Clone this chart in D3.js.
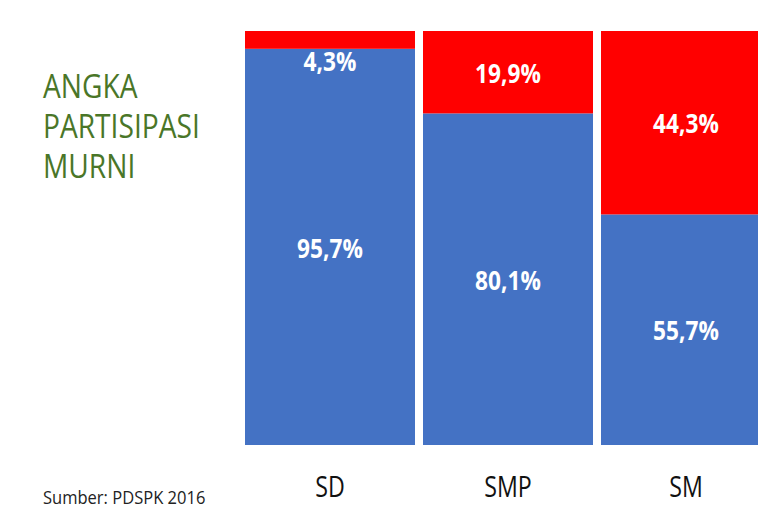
<!DOCTYPE html>
<html>
<head>
<meta charset="utf-8">
<script src="https://cdn.jsdelivr.net/npm/d3@7"></script>
<style>
  body { margin: 0; background: #fff; }
  svg { display: block; font-family: "Open Sans", sans-serif; }
</style>
</head>
<body>
<svg id="chart" width="758" height="510"></svg>
<script>
const categories = ["SD", "SMP", "SM"];
const tidakSekolah = [4.3, 19.9, 44.3]; // merah
const sekolah = [95.7, 80.1, 55.7]; // biru
const titleLines = ["ANGKA", "PARTISIPASI", "MURNI"];
const sourceText = "Sumber: PDSPK 2016";

const BLUE = "#4472C4";
const RED = "#FF0000";
const GREEN = "#4A7628";
const SQUEEZE = 0.84; // teks asli agak sempit

const svg = d3.select("#chart");

const rows = categories.map((c, i) => ({
  cat: c,
  sekolah: sekolah[i],
  tidak: tidakSekolah[i],
}));

const series = d3.stack().keys(["sekolah", "tidak"])(rows);

const x = d3
  .scaleBand()
  .domain(categories)
  .range([245, 771])
  .paddingInner(0.045)
  .paddingOuter(0);

const y = d3.scaleLinear().domain([0, 100]).range([445, 31]);

const color = d3.scaleOrdinal().domain(["sekolah", "tidak"]).range([BLUE, RED]);

const fmt = (v) => d3.format(".1f")(v).replace(".", ",") + "%";

// batang
svg
  .append("g")
  .selectAll("g")
  .data(series)
  .join("g")
  .attr("fill", (s) => color(s.key))
  .selectAll("rect")
  .data((s) => s)
  .join("rect")
  .attr("x", (d) => x(d.data.cat))
  .attr("y", (d) => y(d[1]))
  .attr("width", x.bandwidth())
  .attr("height", (d) => y(d[0]) - y(d[1]));

// label persen
const squeezed = (sel, cx, cy) =>
  sel.attr("transform", `translate(${cx},${cy}) scale(${SQUEEZE},1)`);

series.forEach((s) => {
  s.forEach((d) => {
    const cx = x(d.data.cat) + x.bandwidth() / 2;
    const h = y(d[0]) - y(d[1]);
    // segmen terlalu kecil -> taruh label di bawahnya
    const cy = h < 30 ? y(d[0]) + 12 : (y(d[0]) + y(d[1])) / 2 + 1;
    svg
      .append("text")
      .text(fmt(d[1] - d[0]))
      .attr("text-anchor", "middle")
      .attr("dy", "0.36em")
      .attr("fill", "#fff")
      .attr("font-weight", 700)
      .attr("font-size", 27)
      .call(squeezed, cx, cy);
  });
});

// label kategori
svg
  .append("g")
  .selectAll("text")
  .data(categories)
  .join("text")
  .text((d) => d)
  .attr("text-anchor", "middle")
  .attr("fill", "#111")
  .attr("font-size", 29)
  .attr("transform", (d) => `translate(${x(d) + x.bandwidth() / 2},497) scale(0.8,1)`);

// judul
svg
  .append("g")
  .selectAll("text")
  .data(titleLines)
  .join("text")
  .text((d) => d)
  .attr("fill", GREEN)
  .attr("font-size", 32)
  .attr("transform", (d, i) => `translate(43,${98 + i * 40}) scale(0.88,1)`);

// sumber
svg
  .append("text")
  .text(sourceText)
  .attr("fill", "#222")
  .attr("font-size", 19)
  .attr("transform", `translate(43,504) scale(0.87,1)`);
</script>
</body>
</html>
